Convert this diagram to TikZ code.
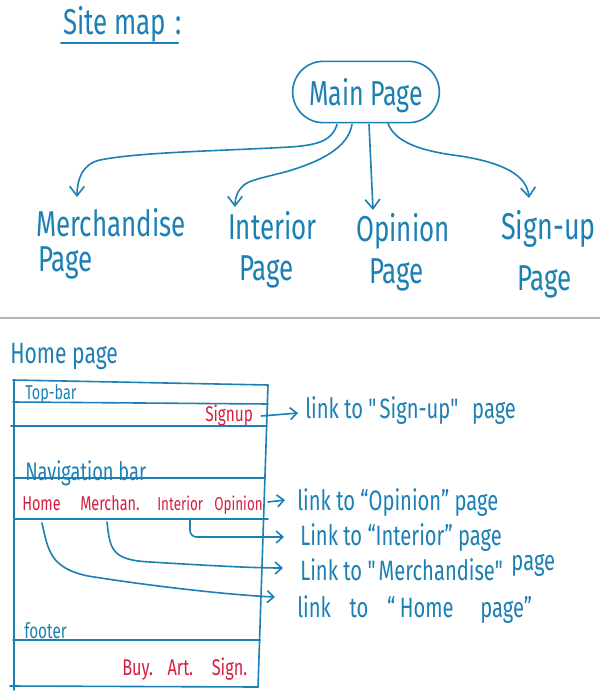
\documentclass[tikz,border=0pt]{standalone}
\usepackage{fontspec}
\setmainfont{Fira Sans}[FakeStretch=0.72]
\usetikzlibrary{arrows.meta,calc}
\definecolor{ink}{HTML}{1C80B4}
\definecolor{redink}{HTML}{D81E40}
\definecolor{rulegray}{HTML}{B5B5B5}
\newcommand{\dq}{\textquotedbl}
\begin{document}
\begin{tikzpicture}[x=0.75pt,y=-0.75pt,
  pen/.style={draw=ink,line width=1.2pt,line cap=round,line join=round},
  headA/.style={-{Straight Barb[length=7pt,width=11pt]}},
  headB/.style={-{Straight Barb[length=5pt,width=9pt]}},
  lbl/.style={inner sep=0pt,anchor=base west,text=ink},
  redlbl/.style={inner sep=0pt,anchor=base west,text=redink},
  fs/.style={font=\fontsize{#1}{#1}\selectfont}]

% page and margins
\fill[white] (0,0) rectangle (600,698);
\path[use as bounding box] (0,0) rectangle (600,698);

% ---------- site map ----------
\node[lbl,fs=27] (title) at (63,35) {Site map\hspace{7pt}:};
\draw[pen] ($(title.base west)+(-2,8)$) -- ($(title.base east)+(-4,8)$);

\node[pen,rounded corners=23pt,minimum width=110pt,minimum height=46pt,
      inner sep=0pt,text=ink,text depth=0pt,fs=26] (main) at (366,92) {Main Page};

\node[lbl,fs=27] (merch)   at (36,237)  {Merchandise};
\node[lbl,fs=27] (merchpg) at (38,272)  {Page};
\node[lbl,fs=27] (inter)   at (228,240) {Interior};
\node[lbl,fs=27] (interpg) at (239,280) {Page};
\node[lbl,fs=27] (opin)    at (356,242) {Opinion};
\node[lbl,fs=27] (opinpg)  at (369,283) {Page};
\node[lbl,fs=28] (sign)    at (501,240) {Sign-up};
\node[lbl,fs=27] (signpg)  at (517,290) {Page};

\draw[pen,headA] ($(main.south)+(-29,1)$)
  .. controls (332,140) and (320,145) .. (290,147)
  .. controls (220,151) and (140,152) .. (100,160)
  .. controls (82,164) and (77,180) .. ($(merch.base west)+(41,-40)$);
\draw[pen,headA] ($(main.south)+(-14,1)$)
  .. controls (348,148) and (320,162) .. (285,172)
  .. controls (262,178) and (250,180) .. (244,185)
  .. controls (237,191) and (235,198) .. ($(inter.base west)+(7,-33)$);
\draw[pen,headA] ($(main.south)+(3,1)$) -- ($(opin.base west)+(17,-32)$);
\draw[pen,headA] ($(main.south)+(22,0)$)
  .. controls (395,142) and (420,151) .. (460,156)
  .. controls (505,163) and (527,176) .. ($(sign.base west)+(28,-42)$);

% ---------- divider ----------
\draw[rulegray,line width=0.8pt] (0,318) -- (600,318);

% ---------- home page wireframe ----------
\node[lbl,fs=22] (hp) at (10,363) {Home page};

\draw[pen] (14,380) -- (14,690);
\draw[pen] (13,380) -- (268,385) -- (258,687);
\draw[pen] (13,402) -- (268,404);
\draw[pen] (11,426) -- (267,426);
\draw[pen] (15,478) -- (265,478);
\draw[pen] (15,519) -- (268,519);
\draw[pen] (13,640) -- (260,640);
\draw[pen] (10,686) -- (258,687);

\node[lbl,fs=15]    (topbar)   at (25,399)  {Top-bar};
\node[redlbl,fs=16] (signup)   at (205,421) {Signup};
\node[lbl,fs=19]    (nav)      at (25,480)  {Navigation bar};
\node[redlbl,fs=15] (home)     at (22,510)  {Home};
\node[redlbl,fs=15] (merchan)  at (80,510)  {Merchan.};
\node[redlbl,fs=14] (interior) at (157,510) {Interior};
\node[redlbl,fs=14] (opinion)  at (214,510) {Opinion};
\node[lbl,fs=16]    (footer)   at (24,638)  {footer};
\node[redlbl,fs=17] (footlinks) at (122,675) {Buy.\hspace{11pt}Art.\hspace{14pt}Sign.};

\node[lbl,fs=21] (lsign)  at (305,418) {link to \dq Sign-up\dq\hspace{4pt} page};
\node[lbl,fs=21] (lopin)  at (297,510) {link to “Opinion” page};
\node[lbl,fs=21] (lint)   at (300,545) {Link to “Interior” page};
\node[lbl,fs=21] (lmerch) at (300,580) {Link to \dq Merchandise\dq\ \raisebox{7pt}{page}};
\node[lbl,fs=21] (lhome)  at (297,617) {link\hspace{10pt} to\hspace{10pt} “\,Home\hspace{16pt} page”};

\draw[pen,headB] ($(signup.base east)+(8,-5)$) -- ($(lsign.base west)+(-7,-5)$);
\draw[pen,headB] ($(opinion.base east)+(5,-8)$) -- ($(lopin.base west)+(-12,-10)$);
\draw[pen,headB,rounded corners=5pt] ($(interior.base west)+(33,9)$) |- ($(lint.base west)+(-16,-8)$);
\draw[pen,headB] ($(merchan.base west)+(27,12)$)
  .. controls (110,550) and (112,560) .. (150,562)
  .. controls (200,565) and (250,568) .. ($(lmerch.base west)+(-17,-12)$);
\draw[pen,headB] ($(home.base west)+(20,13)$)
  .. controls (48,550) and (50,568) .. (88,576)
  .. controls (150,586) and (230,595) .. ($(lhome.base west)+(-22,-20)$);
\end{tikzpicture}
\end{document}
